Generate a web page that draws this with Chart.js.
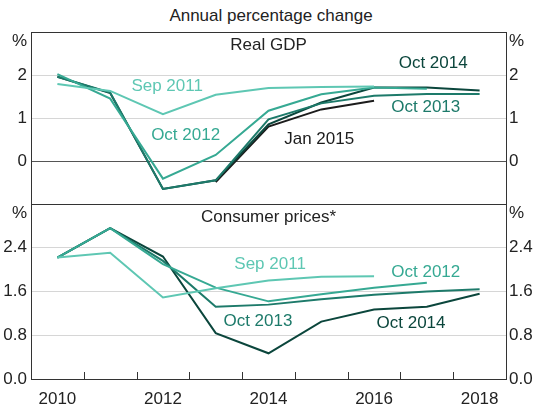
<!DOCTYPE html>
<html><head><meta charset="utf-8">
<script src="https://cdn.jsdelivr.net/npm/chart.js@4/dist/chart.umd.min.js"></script>
<style>
html,body{margin:0;padding:0;background:#fff;}
#wrap{position:relative;width:542px;height:407px;overflow:hidden;}
canvas{position:absolute;left:0;top:0;}
#sub{position:absolute;left:0;width:542px;top:6px;text-align:center;font:17px 'Liberation Sans',Arial,sans-serif;color:#222;}
</style></head><body>
<div id="wrap">
<div id="sub">Annual percentage change</div>
<canvas id="c1" width="542" height="407"></canvas>
<canvas id="c2" width="542" height="407"></canvas>
</div>
<script>
// ---- data ----
const years = [2010, 2011, 2012, 2013, 2014, 2015, 2016, 2017, 2018];
const seriesNames = ['Sep 2011', 'Oct 2012', 'Oct 2013', 'Oct 2014', 'Jan 2015'];
const gdpSep2011 = [1.79, 1.63, 1.09, 1.54, 1.70, 1.72, 1.73, null, null];
const gdpOct2012 = [2.02, 1.45, -0.41, 0.14, 1.17, 1.55, 1.71, 1.68, null];
const gdpOct2013 = [1.96, 1.59, -0.65, -0.45, 0.97, 1.34, 1.52, 1.56, 1.56];
const gdpOct2014 = [1.96, 1.58, -0.65, -0.45, 0.85, 1.36, 1.71, 1.71, 1.64];
const gdpJan2015 = [null, null, null, -0.49, 0.80, 1.20, 1.40, null, null];
const cpiSep2011 = [2.22, 2.31, 1.49, 1.66, 1.80, 1.87, 1.88, null, null];
const cpiOct2012 = [2.22, 2.76, 2.10, 1.67, 1.42, 1.55, 1.67, 1.76, null];
const cpiOct2013 = [2.22, 2.76, 2.16, 1.32, 1.36, 1.46, 1.54, 1.60, 1.64];
const cpiOct2014 = [2.22, 2.76, 2.24, 0.84, 0.47, 1.05, 1.27, 1.32, 1.56];
const gdpTicks = [-1, 0, 1, 2, 3];
const cpiTicks = [0, 0.8, 1.6, 2.4, 3.2];
const xTickLabels = [2010, 2012, 2014, 2016, 2018];
const panelTitles = ['Real GDP', 'Consumer prices*'];
const subtitle = 'Annual percentage change';

// ---- styles ----
const colors = {
  'Sep 2011': '#5ec7b3',
  'Oct 2012': '#36a993',
  'Oct 2013': '#1d7a6a',
  'Oct 2014': '#0b463c',
  'Jan 2015': '#1c1c1c'
};
const FONT = "'Liberation Sans', Arial, sans-serif";
Chart.defaults.font.family = FONT;
Chart.defaults.font.size = 17;
Chart.defaults.color = '#222';

document.getElementById('sub').textContent = subtitle;

function pts(vals) {
  const out = [];
  vals.forEach((v, i) => { if (v !== null) out.push({ x: years[i], y: v }); });
  return out;
}
function ds(name, vals) {
  return { label: name, data: pts(vals), borderColor: colors[name], backgroundColor: colors[name],
    borderWidth: 2, pointRadius: 0, tension: 0, fill: false };
}

const annot = {
  id: 'annot',
  afterDraw(chart, args, opts) {
    const { ctx, chartArea, scales } = chart;
    const xs = scales.x, ys = scales.y;
    ctx.save();
    ctx.font = '17px ' + FONT;
    ctx.textBaseline = 'middle';
    ctx.textAlign = 'center';
    ctx.fillStyle = '#222';
    ctx.fillText(opts.title, (chartArea.left + chartArea.right) / 2, chartArea.top + 13);
    opts.labels.forEach(l => {
      ctx.fillStyle = colors[l.text];
      ctx.fillText(l.text, xs.getPixelForValue(l.x), ys.getPixelForValue(l.y));
    });
    ctx.fillStyle = '#222';
    ctx.textAlign = 'right';
    ctx.fillText('%', chartArea.left - 4, chartArea.top + 9);
    ctx.textAlign = 'left';
    ctx.fillText('%', chartArea.right + 3, chartArea.top + 9);
    if (opts.innerTicks) {
      ctx.strokeStyle = '#333';
      ctx.lineWidth = 1;
      years.slice(0, -1).forEach(yr => {
        const px = Math.round(xs.getPixelForValue(yr + 0.5)) + 0.5;
        ctx.beginPath();
        ctx.moveTo(px, chartArea.bottom);
        ctx.lineTo(px, chartArea.bottom - 7);
        ctx.stroke();
      });
    }
    ctx.restore();
  }
};

function gridColor(min, max, zero) {
  return ctx => {
    const v = ctx.tick ? ctx.tick.value : null;
    if (v === min || v === max) return '#333';
    if (zero && v === 0) return '#555';
    return '#d6d6d6';
  };
}

function yAxes(ticksArr, fmt, zero) {
  const min = ticksArr[0], max = ticksArr[ticksArr.length - 1];
  const common = {
    type: 'linear', min, max,
    afterBuildTicks(scale) { scale.ticks = ticksArr.map(v => ({ value: v })); },
    ticks: { autoSkip: false, padding: 4, callback: v => (v === max || v === min && zero) ? '' : fmt(v) },
    border: { display: true, color: '#333', width: 1 }
  };
  return {
    y: Object.assign({}, common, {
      position: 'left',
      afterFit(s) { s.width = 31; },
      grid: { color: gridColor(min, max, zero), drawTicks: false, lineWidth: 1 }
    }),
    y2: Object.assign({}, common, {
      position: 'right',
      afterFit(s) { s.width = 36; },
      ticks: Object.assign({}, common.ticks, { padding: 3 }),
      grid: { display: false, drawTicks: false }
    })
  };
}

const xBase = { type: 'linear', min: years[0] - 0.5, max: years[years.length - 1] + 0.5 };

// top panel: GDP
new Chart(document.getElementById('c1'), {
  type: 'line',
  data: { datasets: [
    ds('Sep 2011', gdpSep2011), ds('Oct 2012', gdpOct2012), ds('Oct 2013', gdpOct2013),
    ds('Oct 2014', gdpOct2014), ds('Jan 2015', gdpJan2015)
  ] },
  options: {
    responsive: false, animation: false,
    layout: { padding: { top: 32, bottom: 203, left: 0, right: 0 } },
    plugins: { legend: { display: false }, tooltip: { enabled: false },
      annot: { title: panelTitles[0], labels: [
        { text: 'Sep 2011', x: 2012.08, y: 1.74 },
        { text: 'Oct 2012', x: 2012.43, y: 0.60 },
        { text: 'Oct 2014', x: 2017.12, y: 2.28 },
        { text: 'Oct 2013', x: 2016.98, y: 1.26 },
        { text: 'Jan 2015', x: 2014.96, y: 0.51 }
      ] } },
    scales: Object.assign({ x: Object.assign({}, xBase, { display: false }) },
      yAxes(gdpTicks, v => String(v), true))
  },
  plugins: [annot]
});

// bottom panel: CPI
new Chart(document.getElementById('c2'), {
  type: 'line',
  data: { datasets: [
    ds('Sep 2011', cpiSep2011), ds('Oct 2012', cpiOct2012), ds('Oct 2013', cpiOct2013),
    ds('Oct 2014', cpiOct2014)
  ] },
  options: {
    responsive: false, animation: false,
    layout: { padding: { top: 204, bottom: 0, left: 0, right: 0 } },
    plugins: { legend: { display: false }, tooltip: { enabled: false },
      annot: { title: panelTitles[1], innerTicks: true, labels: [
        { text: 'Sep 2011', x: 2014.03, y: 2.10 },
        { text: 'Oct 2012', x: 2016.98, y: 1.96 },
        { text: 'Oct 2013', x: 2013.80, y: 1.06 },
        { text: 'Oct 2014', x: 2016.70, y: 1.02 }
      ] } },
    scales: Object.assign({
      x: Object.assign({}, xBase, {
        afterBuildTicks(scale) { scale.ticks = xTickLabels.map(v => ({ value: v })); },
        afterFit(s) { s.height = 28; },
        ticks: { autoSkip: false, maxRotation: 0, padding: 10, callback: v => String(v) },
        grid: { display: false, drawTicks: false },
        border: { display: true, color: '#333', width: 1 }
      })
    }, yAxes(cpiTicks, v => v.toFixed(1), false))
  },
  plugins: [annot]
});
</script>
</body></html>
